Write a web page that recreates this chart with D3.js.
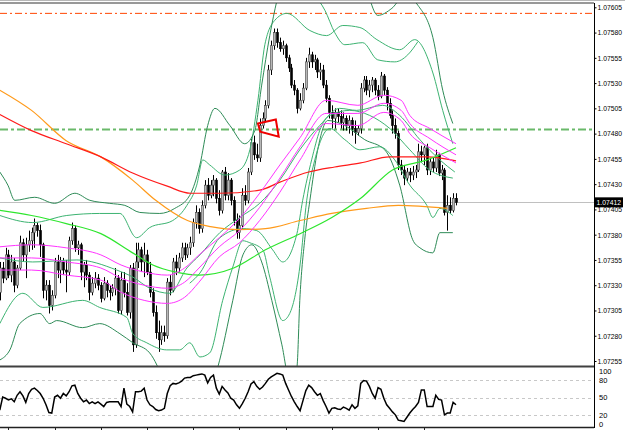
<!DOCTYPE html>
<html><head><meta charset="utf-8">
<script src="https://cdn.jsdelivr.net/npm/d3@7"></script>
<style>html,body{margin:0;padding:0;background:#fff;overflow:hidden}svg{display:block}</style>
</head><body>
<svg id="c" width="625" height="430"></svg>
<script>
// ---------- DATA ----------
const opens=[1.07323,1.07347,1.07337,1.07360,1.07340,1.07353,1.07330,1.07347,1.07372,1.07360,
1.07370,1.07374,1.07382,1.07389,1.07384,1.07370,1.07325,1.07330,1.07310,1.07320,
1.07353,1.07345,1.07353,1.07345,1.07343,1.07374,1.07386,1.07367,1.07370,1.07343,
1.07350,1.07340,1.07323,1.07332,1.07337,1.07330,1.07317,1.07332,1.07325,1.07323,
1.07327,1.07337,1.07305,1.07335,1.07323,1.07303,1.07347,1.07271,1.07353,1.07365,
1.07353,1.07360,1.07343,1.07323,1.07303,1.07283,1.07276,1.07283,1.07280,1.07333,
1.07325,1.07353,1.07347,1.07357,1.07367,1.07360,1.07367,1.07372,1.07392,1.07402,
1.07386,1.07409,1.07429,1.07419,1.07429,1.07434,1.07416,1.07404,1.07442,1.07419,
1.07434,1.07414,1.07394,1.07382,1.07389,1.07419,1.07414,1.07442,1.07471,1.07459,
1.07456,1.07488,1.07495,1.07508,1.07543,1.07567,1.07580,1.07570,1.07564,1.07567,
1.07555,1.07545,1.07528,1.07523,1.07505,1.07513,1.07525,1.07551,1.07558,1.07551,
1.07553,1.07541,1.07543,1.07528,1.07515,1.07501,1.07495,1.07501,1.07497,1.07491,
1.07495,1.07488,1.07493,1.07485,1.07481,1.07485,1.07525,1.07533,1.07523,1.07528,
1.07533,1.07523,1.07517,1.07537,1.07523,1.07510,1.07498,1.07488,1.07480,1.07449,
1.07444,1.07436,1.07442,1.07439,1.07442,1.07444,1.07462,1.07459,1.07466,1.07444,
1.07452,1.07446,1.07459,1.07441,1.07444,1.07402,1.07409,1.07404,1.07416];
const highs=[1.07353,1.07353,1.07367,1.07365,1.07360,1.07357,1.07350,1.07379,1.07376,1.07377,
1.07384,1.07387,1.07396,1.07392,1.07390,1.07372,1.07335,1.07335,1.07325,1.07357,
1.07360,1.07358,1.07357,1.07355,1.07378,1.07392,1.07389,1.07374,1.07372,1.07353,
1.07355,1.07343,1.07338,1.07343,1.07341,1.07333,1.07338,1.07335,1.07330,1.07331,
1.07347,1.07340,1.07343,1.07343,1.07332,1.07350,1.07352,1.07372,1.07372,1.07368,
1.07372,1.07365,1.07353,1.07327,1.07310,1.07295,1.07290,1.07290,1.07337,1.07340,
1.07357,1.07360,1.07362,1.07372,1.07372,1.07371,1.07378,1.07396,1.07409,1.07406,
1.07414,1.07434,1.07436,1.07434,1.07439,1.07436,1.07424,1.07444,1.07447,1.07441,
1.07436,1.07418,1.07401,1.07399,1.07426,1.07429,1.07446,1.07475,1.07478,1.07470,
1.07495,1.07501,1.07513,1.07548,1.07572,1.07584,1.07584,1.07575,1.07572,1.07569,
1.07558,1.07549,1.07533,1.07525,1.07520,1.07530,1.07555,1.07565,1.07561,1.07558,
1.07555,1.07550,1.07548,1.07533,1.07518,1.07508,1.07505,1.07505,1.07503,1.07501,
1.07498,1.07498,1.07496,1.07493,1.07488,1.07530,1.07537,1.07537,1.07533,1.07536,
1.07535,1.07528,1.07541,1.07539,1.07526,1.07515,1.07503,1.07495,1.07483,1.07454,
1.07449,1.07446,1.07446,1.07448,1.07449,1.07470,1.07468,1.07468,1.07470,1.07456,
1.07456,1.07464,1.07461,1.07449,1.07446,1.07419,1.07417,1.07421,1.07421];
const lows=[1.07315,1.07332,1.07335,1.07337,1.07333,1.07323,1.07327,1.07345,1.07353,1.07337,
1.07363,1.07365,1.07367,1.07378,1.07358,1.07317,1.07315,1.07302,1.07305,1.07317,
1.07337,1.07332,1.07340,1.07323,1.07340,1.07370,1.07363,1.07360,1.07335,1.07328,
1.07335,1.07315,1.07320,1.07327,1.07325,1.07313,1.07315,1.07318,1.07315,1.07319,
1.07320,1.07302,1.07301,1.07318,1.07300,1.07297,1.07264,1.07268,1.07347,1.07343,
1.07338,1.07340,1.07318,1.07299,1.07277,1.07264,1.07271,1.07274,1.07277,1.07320,
1.07323,1.07340,1.07343,1.07353,1.07355,1.07357,1.07360,1.07368,1.07386,1.07381,
1.07382,1.07406,1.07414,1.07416,1.07418,1.07411,1.07399,1.07401,1.07414,1.07414,
1.07409,1.07389,1.07376,1.07376,1.07386,1.07409,1.07411,1.07439,1.07454,1.07452,
1.07452,1.07485,1.07491,1.07505,1.07538,1.07563,1.07565,1.07561,1.07558,1.07551,
1.07541,1.07525,1.07518,1.07500,1.07503,1.07510,1.07523,1.07545,1.07545,1.07543,
1.07535,1.07533,1.07525,1.07511,1.07495,1.07485,1.07485,1.07491,1.07485,1.07483,
1.07483,1.07480,1.07478,1.07470,1.07478,1.07480,1.07521,1.07518,1.07516,1.07521,
1.07518,1.07513,1.07515,1.07518,1.07503,1.07495,1.07480,1.07475,1.07444,1.07439,
1.07429,1.07432,1.07432,1.07434,1.07436,1.07442,1.07452,1.07449,1.07439,1.07439,
1.07442,1.07442,1.07438,1.07434,1.07399,1.07384,1.07401,1.07402,1.07409];
const closes=[1.07347,1.07337,1.07360,1.07340,1.07353,1.07330,1.07347,1.07372,1.07360,1.07370,
1.07374,1.07382,1.07389,1.07384,1.07370,1.07325,1.07330,1.07310,1.07320,1.07353,
1.07345,1.07353,1.07345,1.07343,1.07374,1.07386,1.07367,1.07370,1.07343,1.07350,
1.07340,1.07323,1.07332,1.07337,1.07330,1.07317,1.07332,1.07325,1.07323,1.07327,
1.07337,1.07305,1.07335,1.07323,1.07303,1.07347,1.07271,1.07353,1.07365,1.07353,
1.07360,1.07343,1.07323,1.07303,1.07283,1.07276,1.07283,1.07280,1.07333,1.07325,
1.07353,1.07347,1.07357,1.07367,1.07360,1.07367,1.07372,1.07392,1.07402,1.07386,
1.07409,1.07429,1.07419,1.07429,1.07434,1.07416,1.07404,1.07442,1.07419,1.07434,
1.07414,1.07394,1.07382,1.07389,1.07419,1.07414,1.07442,1.07471,1.07459,1.07456,
1.07488,1.07495,1.07508,1.07543,1.07567,1.07580,1.07570,1.07564,1.07567,1.07555,
1.07545,1.07528,1.07523,1.07505,1.07513,1.07525,1.07551,1.07558,1.07551,1.07553,
1.07541,1.07543,1.07528,1.07515,1.07501,1.07495,1.07501,1.07497,1.07491,1.07495,
1.07488,1.07493,1.07485,1.07481,1.07485,1.07525,1.07533,1.07523,1.07528,1.07533,
1.07523,1.07517,1.07537,1.07523,1.07510,1.07498,1.07488,1.07480,1.07449,1.07444,
1.07436,1.07442,1.07439,1.07442,1.07444,1.07462,1.07459,1.07466,1.07444,1.07452,
1.07446,1.07459,1.07441,1.07444,1.07402,1.07409,1.07404,1.07416,1.07412];

// oscillator (0..100), one value per bar
const osc=[29,51,49,46,48,43,54,60,53,42,57,64,66,62,
57,49,38,25,24,51,54,49,57,53,60,70,71,57,49,43,46,40,43,40,43,39,35,42,43,43,
43,43,35,66,39,35,26,60,60,61,66,46,38,35,30,28,29,32,57,70,74,73,75,78,83,84,
84,87,88,89,90,88,75,84,88,66,56,69,63,58,49,46,38,32,40,49,60,73,77,69,64,68,
74,81,85,88,91,90,88,74,63,52,43,35,28,45,62,71,67,60,54,57,45,35,24,32,33,31,
30,34,32,29,38,32,36,74,79,78,69,57,49,67,64,49,38,32,26,21,12,11,10,17,24,30,
35,42,63,63,35,35,35,54,47,46,21,24,24,42,38];

// moving averages: [bar, price]
const redMA=[[0,1.07499],[11,1.07483],[23,1.07470],[35,1.07457],[46,1.07441],[58,1.07428],[66,1.07421],[76,1.07421],[90,1.07424],[97,1.07432],[107,1.07442],[116,1.07447],[125,1.07451],[135,1.07457],[148,1.07457],[158,1.07453]];
const orangeMA=[[0,1.07523],[11,1.07503],[23,1.07473],[35,1.07457],[46,1.07434],[54,1.07414],[65,1.07394],[73,1.07388],[83,1.07385],[92,1.07386],[104,1.07394],[115,1.07401],[127,1.07406],[138,1.07409],[155,1.07406]];
const limeMA=[[0,1.07404],[11,1.07399],[23,1.07391],[35,1.07381],[46,1.07362],[53,1.07350],[61,1.07343],[69,1.07340],[81,1.07347],[92,1.07365],[104,1.07381],[115,1.07397],[125,1.07416],[136,1.07444],[148,1.07454],[158,1.07466]];

// magenta channel
const magIdx=[0,11,23,35,42,50,58,64,69,76,83,90,97,104,113,124,133,139,142,149,158];
const magTop=[1.07368,1.07370,1.07367,1.07360,1.07350,1.07343,1.07340,1.07347,1.07360,1.07377,1.07396,1.07421,1.07449,1.07476,1.07513,1.07508,1.07518,1.07513,1.07498,1.07485,1.07470];
const magMid=[1.07357,1.07357,1.07353,1.07347,1.07337,1.07330,1.07327,1.07333,1.07347,1.07368,1.07384,1.07407,1.07436,1.07467,1.07500,1.07500,1.07510,1.07503,1.07490,1.07475,1.07459];
const magBot=[1.07345,1.07345,1.07340,1.07335,1.07323,1.07315,1.07312,1.07318,1.07333,1.07358,1.07372,1.07394,1.07422,1.07454,1.07490,1.07488,1.07501,1.07493,1.07480,1.07466,1.07451];

// band lines: [bar, price]
const bandUpOuter=[[0,1.07442],[2.8,1.07429],[5.2,1.07414],[12.1,1.07417],[19,1.07411],[26,1.07421],[31.2,1.07414],[38.1,1.07411],[43.3,1.07409],[48.5,1.07402],[55.4,1.07401],[60.6,1.07406],[65.8,1.07419],[69.3,1.07449],[72,1.07488],[74.5,1.07505],[79.7,1.07488],[84.8,1.07470],[88.3,1.07483],[90.7,1.07528],[93.5,1.07577],[96,1.07612],[100.4,1.07652],[117.7,1.07662],[126.4,1.07627],[130.9,1.07597],[135.8,1.07604],[140.3,1.07617],[144.8,1.07607],[150,1.07575],[153.4,1.07523],[156.9,1.07490]];
const bandUpInner=[[0,1.07399],[11.4,1.07392],[23.2,1.07399],[34.6,1.07401],[41.6,1.07401],[47.4,1.07377],[51.9,1.07387],[59.9,1.07394],[64.8,1.07409],[68.2,1.07429],[70.3,1.07454],[72.7,1.07449],[77.9,1.07439],[83.1,1.07444],[86.6,1.07464],[89.4,1.07513],[91.8,1.07568],[95.2,1.07592],[99.4,1.07599],[107.4,1.07582],[113.2,1.07577],[118.8,1.07587],[124.7,1.07585],[130.6,1.07573],[138.5,1.07563],[143.7,1.07573],[150,1.07540],[153.4,1.07503],[156.9,1.07470]];
const bandUpThird=[[109.1,1.07617],[112.6,1.07602],[116,1.07580],[119.5,1.07568],[125.7,1.07570],[130.9,1.07553],[136.8,1.07551],[141.3,1.07558],[144.8,1.07571]];
const bandMid=[[0,1.07357],[11.4,1.07353],[26.7,1.07355],[40.5,1.07345],[46.1,1.07338],[51.9,1.07327],[58.9,1.07322],[64.8,1.07347],[69.3,1.07360],[76.2,1.07382],[83.1,1.07397],[90,1.07411],[97,1.07434],[103.9,1.07464],[110.8,1.07488],[117.7,1.07505],[123.6,1.07503],[132.6,1.07508],[138.5,1.07498],[145.5,1.07474],[152.4,1.07454],[157.6,1.07442]];
const bandLowInner=[[65.8,1.07332],[69.3,1.07342],[76.2,1.07377],[84.2,1.07386],[89,1.07384],[94.5,1.07365],[98,1.07353],[102.9,1.07381],[104.9,1.07414],[108,1.07454],[110.8,1.07483],[114.3,1.07498],[121.2,1.07503],[128.1,1.07498],[135.1,1.07485],[142,1.07464],[148.9,1.07444],[156.9,1.07436]];
const bandLowOuter=[[0,1.07292],[8,1.07322],[14.9,1.07308],[28.7,1.07315],[34.6,1.07308],[44,1.07298],[46.1,1.07282],[50.9,1.07273],[57.8,1.07266],[62.3,1.07266],[65.8,1.07273],[69.3,1.07259],[72.7,1.07263],[77.2,1.07315],[80.7,1.07348],[84.2,1.07374],[86.6,1.07372],[91.1,1.07365],[93.5,1.07338],[98,1.07295],[100.4,1.07302],[103.9,1.07348],[106.3,1.07414],[109.1,1.07454],[114.3,1.07485],[119.5,1.07474],[124.7,1.07464],[131.6,1.07467],[136.8,1.07454],[142,1.07429],[147.9,1.07409],[150,1.07397],[152.4,1.07406],[156.9,1.07399]];
const bandLowFar=[[0,1.07256],[3.5,1.07266],[6.9,1.07292],[13.9,1.07302],[17.3,1.07292],[19.7,1.07295],[28.7,1.07288],[34.6,1.07292],[41.6,1.07282],[46.1,1.07273],[51.9,1.07263],[54.4,1.07251],[57.1,1.07231],[65.8,1.07196],[72.7,1.07226],[75.5,1.07249],[80.7,1.07315],[84.2,1.07360],[87.3,1.07370],[90.7,1.07353],[94.2,1.07315],[97.7,1.07271],[100.4,1.07236],[102.9,1.07249],[103.9,1.07315],[105.6,1.07375],[107.4,1.07414],[110.1,1.07464],[113.6,1.07493],[119.5,1.07488],[126.4,1.07474],[133.3,1.07464],[138.5,1.07429],[143,1.07375],[145.5,1.07367],[150,1.07362],[152.4,1.07382],[156.9,1.07382]];

// drawn object (triangle) : [bar, price]
const triangle=[[89.4,1.07490],[95.6,1.07494],[96.6,1.07477],[90.2,1.07482]];

// levels and ticks
const bidPrice=1.07412;
const levelRed=1.07599;
const levelGreen=1.07484;
const priceTicks=[1.07605,1.07580,1.07555,1.07530,1.07505,1.07480,1.07455,1.07430,1.07405,1.07380,1.07355,1.07330,1.07305,1.07280,1.07255];
const oscLevels=[80,50,20];
const oscLabels=[100,80,50,20,0];
const timeTicks=[3,19,35,51,67,83,99,115,131,147];

// ---------- DRAW ----------
const svg=d3.select('#c');
const AX=594;
const FONT='Liberation Sans, Arial, sans-serif';
const x=d3.scaleLinear().domain([0,158]).range([-0.2,456]);
const y=d3.scaleLinear().domain([1.07255,1.07605]).range([361.0,7.3]);
const yo=d3.scaleLinear().domain([0,100]).range([427.3,368]);

svg.append('rect').attr('width',625).attr('height',430).attr('fill','#fff');
const defs=svg.append('defs');
defs.append('clipPath').attr('id','cm').append('rect').attr('x',0).attr('y',3).attr('width',AX).attr('height',363);
defs.append('clipPath').attr('id','co').append('rect').attr('x',0).attr('y',367).attr('width',AX).attr('height',60);

const main=svg.append('g').attr('clip-path','url(#cm)');

// bid line
main.append('line').attr('x1',0).attr('x2',AX).attr('y1',Math.round(y(bidPrice))+0.5).attr('y2',Math.round(y(bidPrice))+0.5).attr('stroke','#c0c0c0').attr('stroke-width',1);
// dash-dot levels
main.append('line').attr('x1',0).attr('x2',AX).attr('y1',y(levelRed)).attr('y2',y(levelRed)).attr('stroke','#ff4500').attr('stroke-width',1).attr('stroke-dasharray','7,3,2,3');
main.append('line').attr('x1',0).attr('x2',AX).attr('y1',y(levelGreen)).attr('y2',y(levelGreen)).attr('stroke','#6ab96a').attr('stroke-width',2).attr('stroke-dasharray','8,3,3,3');

const lp=d3.line().x(d=>x(d[0])).y(d=>y(d[1])).curve(d3.curveMonotoneX);
function drawPair(data,color,w){main.append('path').attr('d',lp(data)).attr('fill','none').attr('stroke',color).attr('stroke-width',w);}

// candles
const bars=d3.range(closes.length);
main.append('g').selectAll('line').data(bars).join('line')
 .attr('x1',i=>Math.round(x(i))+0.5).attr('x2',i=>Math.round(x(i))+0.5)
 .attr('y1',i=>y(highs[i])).attr('y2',i=>y(lows[i])).attr('stroke','#000').attr('stroke-width',1);
main.append('g').selectAll('rect').data(bars).join('rect')
 .attr('x',i=>Math.round(x(i))-0.5).attr('width',2)
 .attr('y',i=>y(Math.max(opens[i],closes[i])))
 .attr('height',i=>Math.max(1,Math.abs(y(opens[i])-y(closes[i]))))
 .attr('fill',i=>closes[i]>=opens[i]?'#b8b8b8':'#000')
 .attr('stroke',i=>closes[i]>=opens[i]?'#444':'#000').attr('stroke-width',0.6);

// bands
drawPair(bandLowFar,'#2e8b57',1);
drawPair(bandLowOuter,'#3cb371',1);
drawPair(bandLowInner,'#3cb371',1);
drawPair(bandMid,'#3cb371',1);
drawPair(bandUpThird,'#3cb371',1);
drawPair(bandUpInner,'#3cb371',1);
drawPair(bandUpOuter,'#2e8b57',1);
// MAs
drawPair(orangeMA,'#ff9a1a',1.2);
drawPair(redMA,'#ff1a1a',1.2);
drawPair(limeMA,'#2ee62e',1.2);
// magenta
[magTop,magMid,magBot].forEach(arr=>drawPair(magIdx.map((j,k)=>[j,arr[k]]),'#ff33ff',1));

// triangle object
main.append('path').attr('d',d3.line().x(d=>x(d[0])).y(d=>y(d[1]))(triangle)+'Z').attr('fill','none').attr('stroke','#ee0000').attr('stroke-width',2);

// oscillator panel
const op=svg.append('g').attr('clip-path','url(#co)');
op.selectAll('line.lv').data(oscLevels).join('line').attr('class','lv')
 .attr('x1',0).attr('x2',AX).attr('y1',d=>Math.round(yo(d))+0.5).attr('y2',d=>Math.round(yo(d))+0.5)
 .attr('stroke','#c8c8c8').attr('stroke-dasharray','3,3');
op.append('path').attr('d',d3.line().x((d,i)=>x(i)).y(d=>yo(d))(osc)).attr('fill','none').attr('stroke','#000').attr('stroke-width',1.5);

// frame
svg.append('line').attr('x1',0).attr('x2',625).attr('y1',0.5).attr('y2',0.5).attr('stroke','#b8b8b8');
svg.append('line').attr('x1',0).attr('x2',AX).attr('y1',3).attr('y2',3).attr('stroke','#333').attr('stroke-width',1);
svg.append('line').attr('x1',0).attr('x2',AX).attr('y1',366.5).attr('y2',366.5).attr('stroke','#404040').attr('stroke-width',2);
svg.append('line').attr('x1',0).attr('x2',AX).attr('y1',427.5).attr('y2',427.5).attr('stroke','#222').attr('stroke-width',1.5);
svg.append('line').attr('x1',AX+0.5).attr('x2',AX+0.5).attr('y1',3).attr('y2',428).attr('stroke','#000');

// time ticks
svg.selectAll('line.tt').data(timeTicks).join('line').attr('class','tt')
 .attr('x1',d=>Math.round(x(d))+0.5).attr('x2',d=>Math.round(x(d))+0.5).attr('y1',427).attr('y2',430).attr('stroke','#222');

// price axis
const ax=svg.append('g').attr('transform',`translate(${AX+0.5},0)`)
 .call(d3.axisRight(y).tickValues(priceTicks).tickSize(2).tickPadding(1).tickFormat(d3.format('.5f')));
ax.select('.domain').remove();
ax.selectAll('line').attr('stroke','#000');
ax.selectAll('text').attr('font-family',FONT).attr('font-size','7.4px').attr('fill','#000')
 .attr('textLength',24.5).attr('lengthAdjust','spacingAndGlyphs');

// bid label
const by=y(bidPrice);
svg.append('rect').attr('x',AX+1).attr('y',by-5).attr('width',28).attr('height',10).attr('fill','#000');
svg.append('text').attr('x',AX+2.5).attr('y',by+3).attr('fill','#fff').attr('font-family',FONT)
 .attr('font-size','7.4px').attr('textLength',24.5).attr('lengthAdjust','spacingAndGlyphs').text(d3.format('.5f')(bidPrice));

// osc labels
svg.selectAll('text.ol').data(oscLabels).join('text').attr('class','ol')
 .attr('x',AX+5).attr('y',d=>Math.min(Math.max(yo(d),371.5),424)+2.8)
 .attr('font-family',FONT).attr('font-size','7.5px').attr('fill','#000').text(d=>d);
</script>
</body></html>
